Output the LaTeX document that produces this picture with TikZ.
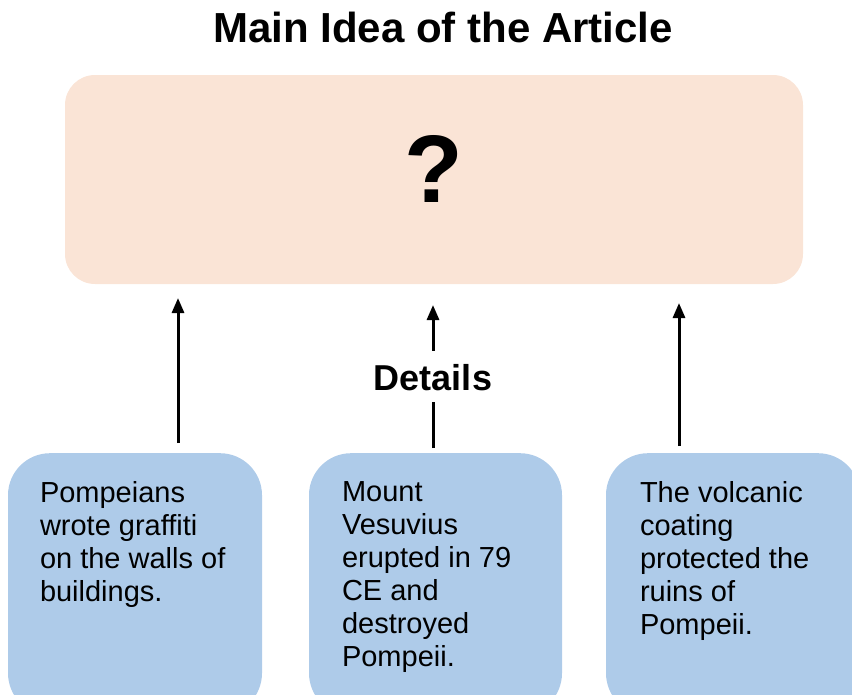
\documentclass[tikz,border=0pt]{standalone}
\usepackage{fontspec}
\setmainfont{Liberation Sans}
\usetikzlibrary{arrows.meta}
\definecolor{ideapeach}{RGB}{250,228,214}
\definecolor{detailblue}{RGB}{174,203,233}
\tikzset{
  detailbox/.style={fill=detailblue, rounded corners=42pt, minimum height=262pt, anchor=north, inner sep=0pt},
  detailtext/.style={anchor=north west, align=left, inner sep=0pt, font=\fontsize{29}{33}\selectfont},
  uparrow/.style={-{Triangle[length=15pt,width=12pt]}, line width=3pt},
}
\begin{document}
\begin{tikzpicture}[x=1pt,y=-1pt]
  \clip (0,0) rectangle (852,694);
  \node[anchor=base, font=\fontsize{42}{48}\selectfont\bfseries] (title) at (443,42) {Main Idea of the Article};
  \node[fill=ideapeach, rounded corners=30pt, minimum width=738pt, minimum height=209pt, inner sep=0pt] (idea) at (434,179.5) {};
  \node[anchor=base, font=\fontsize{96}{100}\selectfont\bfseries] (q) at (434,202) {?};
  % details
  \node[detailbox, minimum width=254pt] (d1) at (135,453) {};
  \node[detailbox, minimum width=253pt] (d2) at (435.5,453) {};
  \node[detailbox, minimum width=254pt] (d3) at (733,453) {};
  \node[detailtext] (t1) at ([xshift=32pt,yshift=-28pt]d1.north west) {Pompeians\\wrote graffiti\\on the walls of\\buildings.};
  \node[detailtext] (t2) at ([xshift=33pt,yshift=-28pt]d2.north west) {Mount\\Vesuvius\\erupted in 79\\CE and\\destroyed\\Pompeii.};
  \node[detailtext] (t3) at ([xshift=34pt,yshift=-28pt]d3.north west) {The volcanic\\coating\\protected the\\ruins of\\Pompeii.};
  \node[font=\fontsize{36}{40}\selectfont\bfseries, text height=27pt, text depth=0pt, inner xsep=0pt, inner ysep=12pt, anchor=base] (det) at (433,390) {Details};
  \coordinate (a1) at (178,443);
  \coordinate (b1) at (178,298);
  \coordinate (a2) at (433,448);
  \coordinate (b2) at (433,305);
  \coordinate (a3) at (679,446);
  \coordinate (b3) at (679,303);
  \begin{scope}[uparrow]
    \draw (a1) -- (b1);
    \draw[-] (a2) -- (det);
    \draw (det) -- (b2);
    \draw (a3) -- (b3);
  \end{scope}
\end{tikzpicture}
\end{document}
